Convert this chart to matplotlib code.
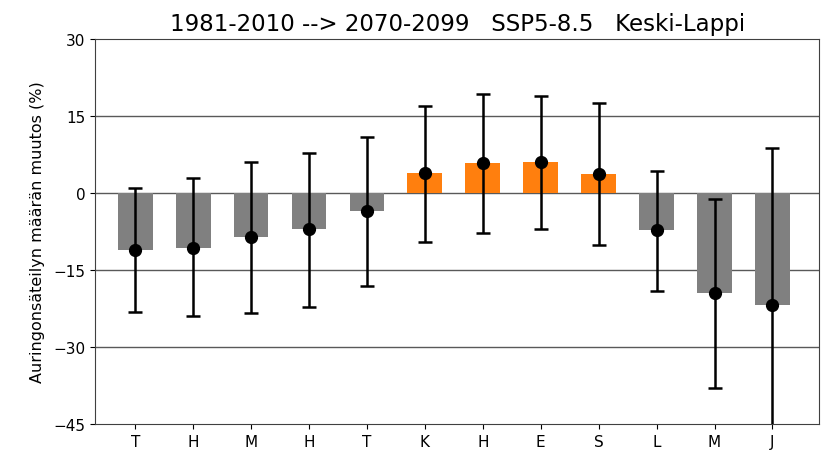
import numpy as np
import matplotlib
matplotlib.use("Agg")
import matplotlib.pyplot as plt

# Kuukaudet (tammi..joulu)
months = ["T", "H", "M", "H", "T", "K", "H", "E", "S", "L", "M", "J"]

# Keskimuutos ja vaihteluväli (%)
mean_change = [-11.1, -10.7, -8.7, -7.1, -3.5, 3.8, 5.8, 6.0, 3.6, -7.3, -19.6, -21.8]
low_change = [-23.2, -24.0, -23.4, -22.3, -18.2, -9.6, -7.8, -7.0, -10.1, -19.1, -38.0, -52.0]
high_change = [0.9, 2.8, 6.0, 7.8, 10.9, 17.0, 19.3, 18.9, 17.4, 4.2, -1.3, 8.8]

mean_change = np.array(mean_change)
low_change = np.array(low_change)
high_change = np.array(high_change)
x = np.arange(1, len(months) + 1)

colors = ["#ff7f0e" if v > 0 else "#808080" for v in mean_change]

fig = plt.figure(figsize=(8.21, 4.52), dpi=100)
ax = fig.add_axes([0.116, 0.06, 0.882, 0.852])

for yy in [15, 0, -15, -30]:
    ax.axhline(yy, color="0.35", lw=1.0, zorder=0)

ax.bar(x, mean_change, width=0.6, color=colors, zorder=2)

yerr = np.vstack([mean_change - low_change, high_change - mean_change])
ax.errorbar(x, mean_change, yerr=yerr, fmt="o", color="black", ms=8.5,
            elinewidth=1.8, capsize=5, capthick=1.8, zorder=3)

ax.set_xlim(0.31, 12.81)
ax.set_ylim(-45, 30)
ax.set_yticks([-45, -30, -15, 0, 15, 30])
ax.set_xticks(x)
ax.set_xticklabels(months)
ax.tick_params(labelsize=11)
for sp in ax.spines.values():
    sp.set_color("0.25")

ax.set_ylabel("Auringonsäteilyn määrän muutos (%)", fontsize=11.5, labelpad=6)
ax.set_title("1981-2010 --> 2070-2099   SSP5-8.5   Keski-Lappi", fontsize=16.5, pad=6)

plt.savefig("out.png", dpi=100)
